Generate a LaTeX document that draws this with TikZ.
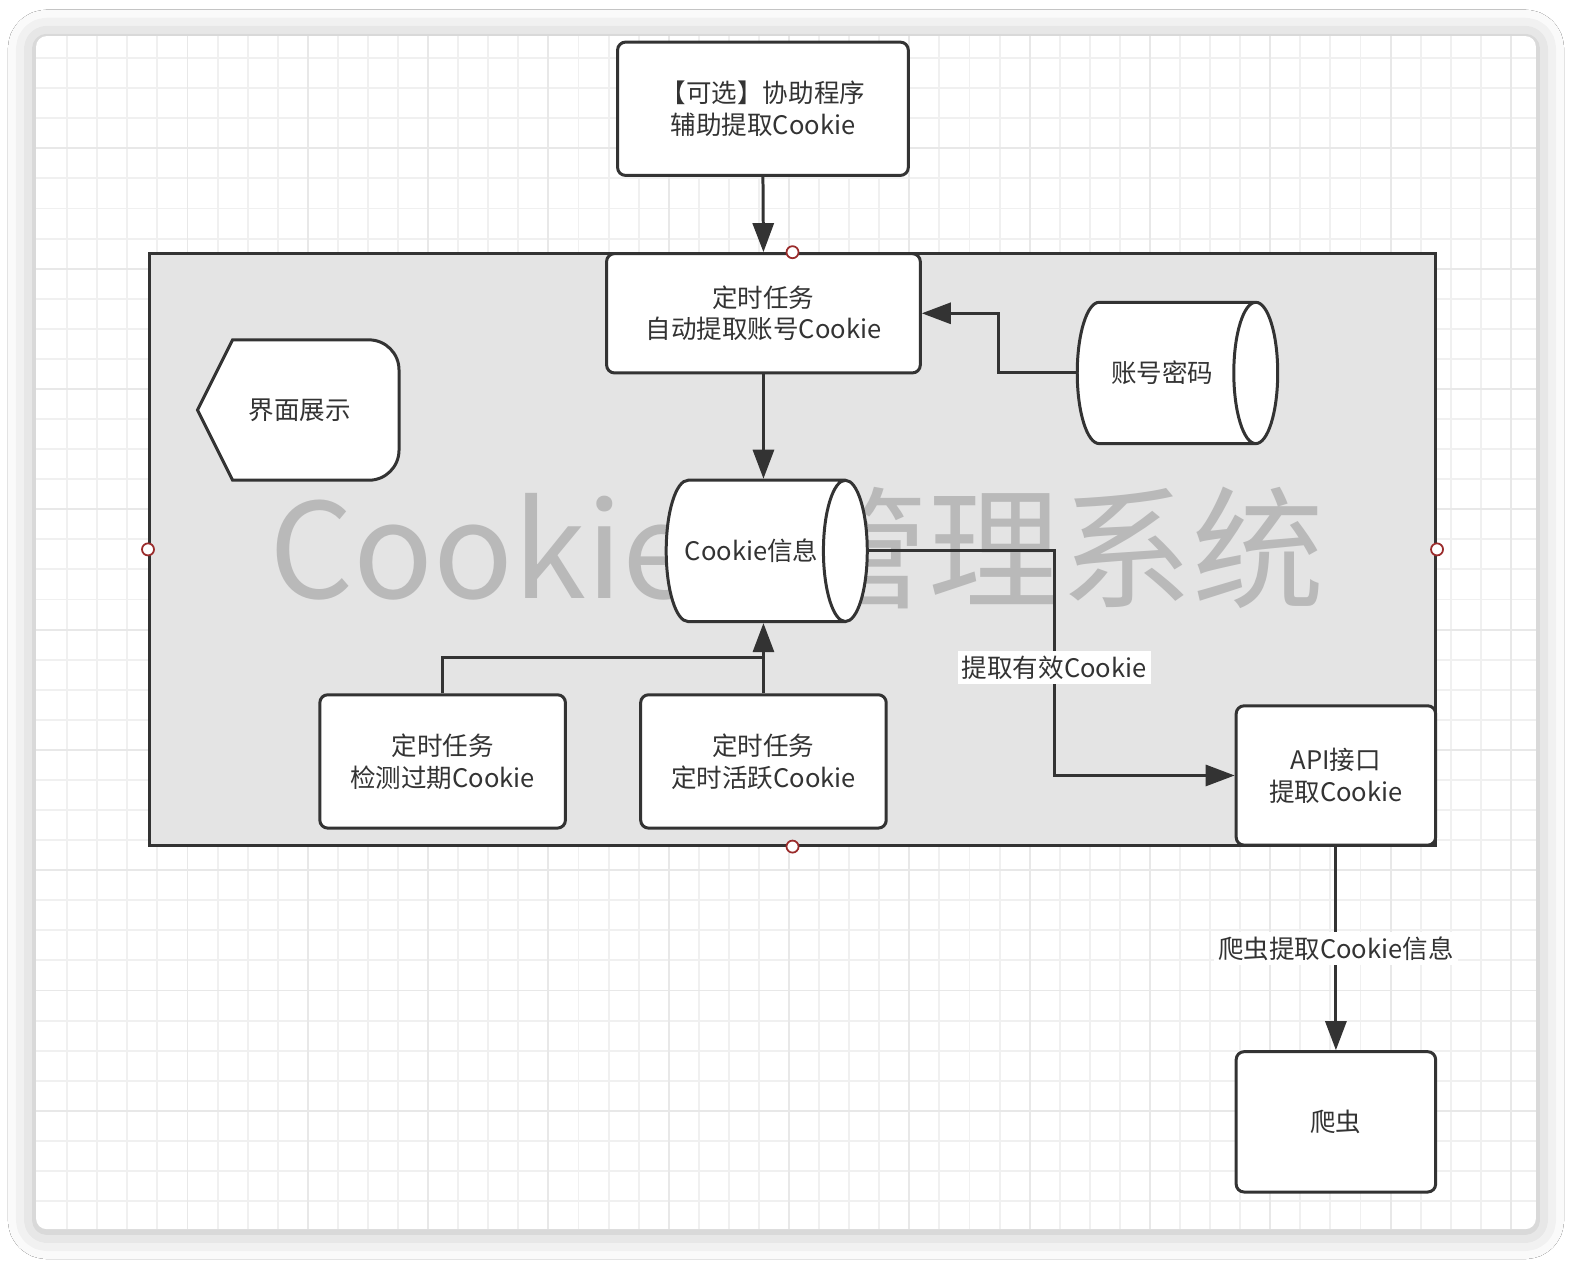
\documentclass[tikz,border=0pt]{standalone}
\usepackage{fontspec}
\setmainfont{Noto Sans CJK SC}
\usetikzlibrary{arrows.meta, shapes.geometric, shadows.blur}

\definecolor{inkgray}{HTML}{333333}
\definecolor{panelgray}{HTML}{E4E4E4}
\definecolor{gridminor}{HTML}{F0F0F0}
\definecolor{gridmajor}{HTML}{E8E8E8}
\definecolor{markgray}{HTML}{B9B9B9}
\definecolor{handlered}{HTML}{9A2B2B}

\begin{document}
\begin{tikzpicture}[x=0.02cm, y=-0.02cm,
        font=\fontsize{14.5}{18}\selectfont, text=inkgray,
        wire/.style={draw=inkgray, line width=1.7pt},
        flow/.style={wire, -{Triangle[length=0.58cm, width=0.42cm]}},
        task/.style={wire, fill=white, rounded corners=4.5pt, align=center, inner sep=2pt},
        store/.style={wire, fill=white, cylinder, shape border rotate=0, shape aspect=1.42, align=center, inner sep=2pt, anchor=west},
        panel/.style={wire, fill=panelgray},
        tag/.style={fill=white, inner sep=2.5pt},
        handle/.style={circle, draw=handlered, line width=1pt, fill=white, minimum size=0.24cm, inner sep=0pt}]

        % ---------------------------------------------------
        % 1. Canvas: card, shadow and grid
        % ---------------------------------------------------
        \useasboundingbox (0,0) rectangle (1568,1263);
        \fill[white] (0,0) rectangle (1568,1263);
        \fill[white, rounded corners=6pt, blur shadow={shadow xshift=0pt, shadow yshift=-1pt, shadow blur radius=16pt, shadow opacity=30}] (36,36) rectangle (1532,1226);

        \begin{scope}
            \clip[rounded corners=6pt] (36,36) rectangle (1532,1226);
            \foreach \gx in {67,97,...,1507} \draw[gridminor, line width=1.1pt] (\gx,36) -- (\gx,1226);
            \foreach \gy in {58,88,...,1198} \draw[gridminor, line width=1.1pt] (36,\gy) -- (1532,\gy);
            \foreach \gx in {187,307,...,1507} \draw[gridmajor, line width=1.1pt] (\gx,36) -- (\gx,1226);
            \foreach \gy in {148,268,...,1108} \draw[gridmajor, line width=1.1pt] (36,\gy) -- (1532,\gy);
        \end{scope}

        % ---------------------------------------------------
        % 2. System panel and watermark
        % ---------------------------------------------------
        \node[panel, minimum width=25.66cm, minimum height=11.8cm] (system) at (790.5,548) {};
        \node[anchor=base west, text=markgray, inner sep=0pt, font=\fontsize{75}{75}\selectfont] (mark) at (268,597) {Cookie\hspace{2.0cm}管理系统};

        % ---------------------------------------------------
        % 3. Boxes and stores
        % ---------------------------------------------------
        \node[task, minimum width=5.8cm, minimum height=2.66cm] (helper) at (761,108.5) {【可选】协助程序\\辅助提取Cookie};
        \node[task, minimum width=6.26cm, minimum height=2.38cm] (autotask) at (761.5,312.5) {定时任务\\自动提取账号Cookie};
        % stores: width/height are taken before the shape is turned
        \node[store, minimum width=2.82cm, minimum height=4cm] (account) at (1073,372) {账号密码};
        \node[store, minimum width=2.82cm, minimum height=3.98cm] (cookie) at (663,549.5) {Cookie信息};
        \node[task, minimum width=4.9cm, minimum height=2.66cm] (check) at (441.5,759.5) {定时任务\\检测过期Cookie};
        \node[task, minimum width=4.9cm, minimum height=2.66cm] (active) at (761.5,759.5) {定时任务\\定时活跃Cookie};
        \node[task, minimum width=3.98cm, minimum height=2.78cm] (api) at (1332.5,773.5) {API接口\\提取Cookie};
        \node[task, minimum width=3.98cm, minimum height=2.8cm] (spider) at (1332.5,1119) {爬虫};

        % Display shape (pointed left, rounded right)
        \draw[wire, fill=white] (197,409) -- (232,339) -- (368,339)
            .. controls (384.6,339) and (398,352.4) .. (398,369) -- (398,449)
            .. controls (398,465.6) and (384.6,479) .. (368,479) -- (232,479) -- cycle;
        \node (show) at (299,409) {界面展示};

        % ---------------------------------------------------
        % 4. Connectors
        % ---------------------------------------------------
        \draw[flow] (helper.south) -- (autotask.north);
        \draw[flow] (account.west) -- ++(-77,0) |- (autotask.east);
        \draw[flow] (autotask.south) -- (autotask.south |- cookie.north);
        \draw[flow] (active.north) -- (active.north |- cookie.south);
        \coordinate (joint) at (761.5,656);
        \draw[wire] (check.north) |- (joint);
        \draw[flow] (cookie.east) -- ++(185,0) |- node[tag, pos=0.26] {提取有效Cookie} (api.west);
        \draw[flow] (api.south) -- node[tag] {爬虫提取Cookie信息} (spider.north);

        % Selection handles on the panel
        \foreach \side in {north, south, east, west}
            \node[handle] (handle-\side) at (system.\side) {};

    \end{tikzpicture}
\end{document}
